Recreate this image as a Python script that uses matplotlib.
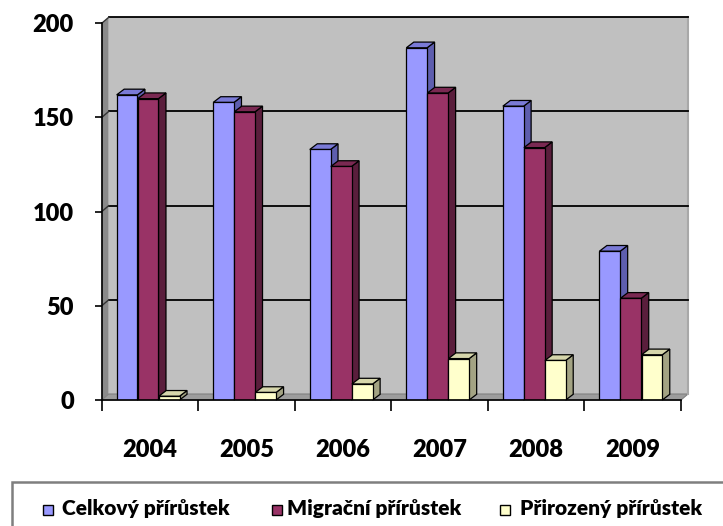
import matplotlib
matplotlib.use("Agg")
import matplotlib.pyplot as plt
from matplotlib.patches import Polygon, Rectangle
import numpy as np

plt.rcParams['font.family'] = ['Lato', 'DejaVu Sans']
plt.rcParams['font.weight'] = 'bold'

years = ['2004', '2005', '2006', '2007', '2008', '2009']
series_names = ['Celkový přírůstek', 'Migrační přírůstek', 'Přirozený přírůstek']
celkovy = [162, 158, 133, 187, 156, 79]
migracni = [160, 153, 124, 163, 134, 54]
prirozeny = [2, 4, 8.5, 22, 21, 24]
yticks = [0, 50, 100, 150, 200]

front_colors = ['#9999FF', '#993366', '#FFFFCC']
top_colors = ['#7A7AD6', '#7A2952', '#D6D6AB']
side_colors = ['#5E5EAE', '#5A1E3C', '#A3A383']

W, H = 723, 526
fig = plt.figure(figsize=(W / 100, H / 100), dpi=100)

x_left, x_right = 101.7, 681.0
y_bot, y_top = 400.0, 23.3
ax = fig.add_axes([x_left / W, (H - y_bot) / H, (x_right - x_left) / W, (y_bot - y_top) / H])
n = len(years)
ax.set_xlim(-0.5, n - 0.5)
ax.set_ylim(0, 200)
ax.set_facecolor('none')

px_x = (x_right - x_left) / n
px_y = (y_bot - y_top) / 200.0

dxw = 7 / px_x
dyw = 6 / px_y
dxb = 7.5 / px_x
dyb = 5.7 / px_y

x0, x1 = -0.5, n - 0.5
ax.add_patch(Polygon([(x0 + dxw, dyw), (x1 + dxw, dyw), (x1 + dxw, 200 + dyw), (x0 + dxw, 200 + dyw)],
                     closed=True, facecolor='#C0C0C0', edgecolor='none', zorder=0, clip_on=False))
ax.add_patch(Polygon([(x0, 0), (x0, 200), (x0 + dxw, 200 + dyw), (x0 + dxw, dyw)],
                     closed=True, facecolor='#8A8A8A', edgecolor='none', zorder=0.5, clip_on=False))
ax.add_patch(Polygon([(x0, 0), (x1, 0), (x1 + dxw, dyw), (x0 + dxw, dyw)],
                     closed=True, facecolor='#9C9C9C', edgecolor='#808080', lw=0.8, zorder=0.5, clip_on=False))
ax.plot([x1 + dxw, x1 + dxw], [dyw, 200 + dyw], color='#A8A8A8', lw=1.5, zorder=0.6, clip_on=False)

for v in yticks[1:]:
    ax.plot([x0 + dxw, x1 + dxw], [v + dyw, v + dyw], color='black', lw=1.3, zorder=0.7, clip_on=False)
    ax.plot([x0, x0 + dxw], [v, v + dyw], color='#333333', lw=1.0, zorder=0.7, clip_on=False)

series = [celkovy, migracni, prirozeny]
bw = 0.215
offsets = [-0.345, -0.127, 0.091]
for s, vals in enumerate(series):
    xs = np.arange(n) + offsets[s]
    ax.bar(xs, vals, width=bw, align='edge', color=front_colors[s], edgecolor='black',
           linewidth=0.9, zorder=2 + s * 0.1)
    for xi, h in zip(xs, vals):
        top = [(xi, h), (xi + bw, h), (xi + bw + dxb, h + dyb), (xi + dxb, h + dyb)]
        side = [(xi + bw, 0), (xi + bw, h), (xi + bw + dxb, h + dyb), (xi + bw + dxb, dyb)]
        ax.add_patch(Polygon(side, closed=True, facecolor=side_colors[s], edgecolor='black',
                             lw=0.9, zorder=1.95 + s * 0.1, clip_on=False))
        ax.add_patch(Polygon(top, closed=True, facecolor=top_colors[s], edgecolor='black',
                             lw=0.9, zorder=1.95 + s * 0.1, clip_on=False))

for sp in ['top', 'right']:
    ax.spines[sp].set_visible(False)
ax.spines['left'].set_linewidth(1.2)
ax.spines['bottom'].set_linewidth(1.2)
ax.spines['left'].set_zorder(5)
ax.spines['bottom'].set_zorder(5)

ax.set_yticks(yticks)
ax.set_yticklabels([str(v) for v in yticks], fontsize=17, fontweight='heavy')
ax.tick_params(axis='y', length=5, width=1.2, pad=15)

ax.set_xticks(np.arange(n + 1) - 0.5)
ax.set_xticklabels([''] * (n + 1))
ax.tick_params(axis='x', which='major', length=8, width=1.2, direction='out')
ax.set_xticks(np.arange(n), minor=True)
ax.set_xticklabels(years, minor=True, fontsize=17, fontweight='heavy')
ax.tick_params(axis='x', which='minor', length=0, pad=28)

def fx(p):
    return p / W

def fy(p):
    return (H - p) / H

fig.patches.append(Rectangle((fx(12), fy(540)), fx(730) - fx(12), fy(482) - fy(540),
                             transform=fig.transFigure, facecolor='white', edgecolor='#7F7F7F',
                             lw=1.8, zorder=1))
marker_x = [43, 272, 500]
text_x = [62, 287, 520]
for s in range(3):
    fig.patches.append(Rectangle((fx(marker_x[s]), fy(515)), fx(10), (10) / H,
                                 transform=fig.transFigure, facecolor=front_colors[s],
                                 edgecolor='black', lw=1.0, zorder=2))
    fig.text(fx(text_x[s]), fy(509), series_names[s], fontsize=15, fontweight='heavy',
             ha='left', va='center', zorder=3)

fig.savefig('out.png', dpi=100, facecolor='white')
